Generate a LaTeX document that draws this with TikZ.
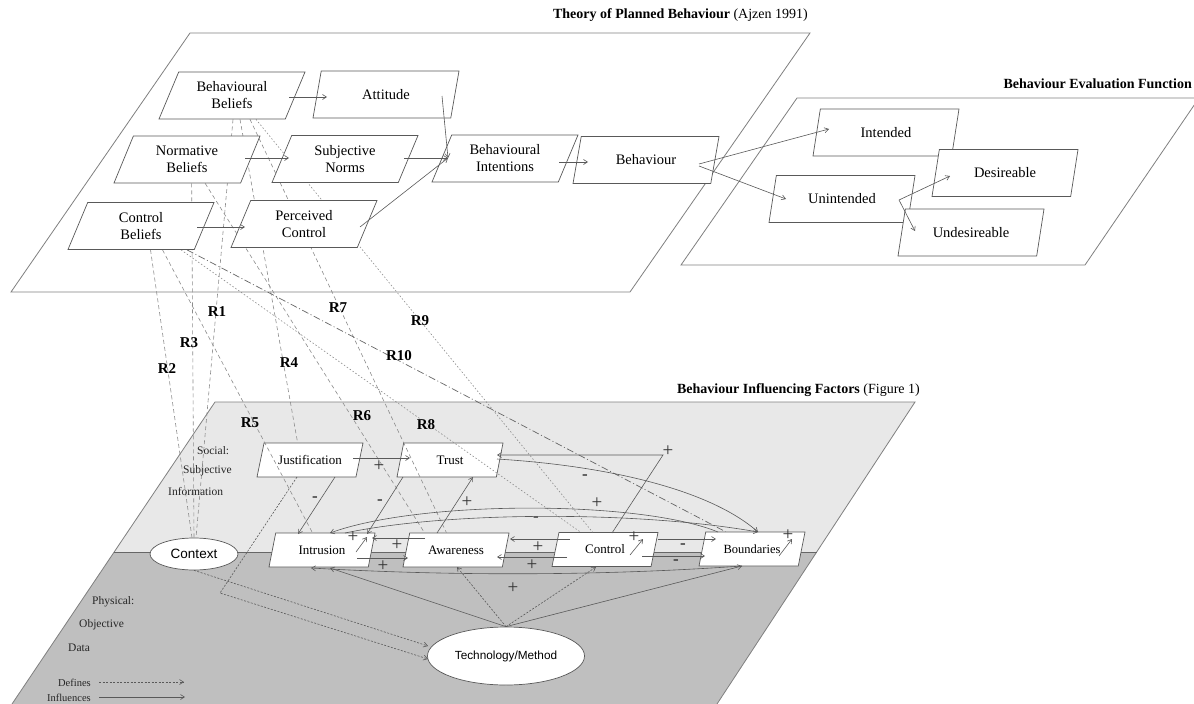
\documentclass[tikz,border=0pt]{standalone}
\usepackage{fontspec}
\setmainfont{Liberation Serif}
\newfontfamily\arialf{Liberation Sans}
\usetikzlibrary{shapes.geometric,arrows.meta,calc}
\pgfdeclarelayer{back}
\pgfdeclarelayer{lowbox}
\pgfdeclarelayer{rels}
\pgfsetlayers{back,lowbox,rels,main}
\begin{document}
\begin{tikzpicture}[x=1pt,y=-1pt,
  panel/.style={draw=black!50, line width=0.8pt},
  pbox/.style={trapezium, trapezium stretches body, draw=black!65, fill=white, line width=0.7pt,
    inner sep=1pt, align=center, font=\fontsize{14.5}{17}\selectfont,
    minimum height=47pt, minimum width=146pt, trapezium left angle=56, trapezium right angle=124},
  ebox/.style={pbox, trapezium left angle=59, trapezium right angle=121},
  sbox/.style={pbox, font=\fontsize{13}{15}\selectfont, minimum height=34pt, minimum width=106pt, trapezium left angle=58, trapezium right angle=122},
  oval/.style={ellipse, draw=black!65, fill=white, line width=0.7pt, inner sep=0pt},
  flow/.style={draw=black!65, line width=0.6pt, -{Straight Barb[length=4pt,width=5pt]}},
  defn/.style={draw=black!65, line width=0.6pt, dash pattern=on 2pt off 1.5pt, -{Straight Barb[length=4pt,width=5pt]}},
  rel/.style={draw=black!45, line width=0.6pt, dash pattern=on 4pt off 3pt},
  reldd/.style={draw=black!60, line width=0.7pt, dash pattern=on 7pt off 2.5pt on 1pt off 2.5pt},
  rlab/.style={font=\bfseries\fontsize{15}{15}\selectfont, inner sep=0pt},
  sgn/.style={font=\fontsize{19}{19}\selectfont, inner sep=0pt, text=black!80},
  neg/.style={font=\bfseries\fontsize{17}{17}\selectfont, inner sep=0pt, text=black!80},
  ttl/.style={font=\fontsize{14}{16}\selectfont, inner sep=0pt},
  side/.style={font=\fontsize{11.5}{13}\selectfont, text=black!85, inner sep=0pt, anchor=west}
]
\useasboundingbox (0,0) rectangle (1194,704);

% ---------- panels ----------
\begin{pgfonlayer}{back}
\fill[white] (0,0) rectangle (1194,704);
\fill[black!9] (215,402) -- (915,402) -- (817,552) -- (114,552) -- cycle;
\fill[black!25] (114,552) -- (817,552) -- (717,704) -- (12,704) -- cycle;
\draw[panel] (12,704) -- (215,402) -- (915,402) -- (717,704);
\draw[black!60, line width=0.8pt] (114,552) -- (817,552);
\draw[panel, fill=white] (190,33) -- (810,33) -- (630,292) -- (11,292) -- cycle;
\draw[panel, fill=white] (797,98) -- (1199,98) -- (1085,265) -- (681,265) -- cycle;
\end{pgfonlayer}

\node[ttl, anchor=east] (t1) at (808,15) {\textbf{Theory of Planned Behaviour} (Ajzen 1991)};
\node[ttl, anchor=east] (t2) at (1192,84) {\textbf{Behaviour Evaluation Function}};
\node[ttl, anchor=east] (t3) at (920,390) {\textbf{Behaviour Influencing Factors} (Figure 1)};

% ---------- TPB nodes ----------
\node[pbox] (bb) at (232,95.5) {Behavioural\\Beliefs};
\node[pbox] (att) at (386,94.5) {Attitude};
\node[pbox] (nb) at (187,159.5) {Normative\\Beliefs};
\node[pbox] (sn) at (345,159) {Subjective\\Norms};
\node[pbox] (bi) at (505,158.5) {Behavioural\\Intentions};
\node[pbox] (cb) at (141,226) {Control\\Beliefs};
\node[pbox] (pc) at (304,224) {Perceived\\Control};
\node[pbox] (beh) at (646,160) {Behaviour};

% ---------- BEF nodes ----------
\node[ebox] (int) at (886,132.5) {Intended};
\node[ebox] (unint) at (842,199) {Unintended};
\node[ebox] (des) at (1005,173) {Desireable};
\node[ebox] (undes) at (971,232.5) {Undesireable};

% ---------- BIF nodes ----------
\begin{pgfonlayer}{lowbox}
\node[sbox] (jus) at (310,460) {Justification};
\node[sbox] (tru) at (450,460) {Trust};
\node[sbox] (intr) at (322,550) {Intrusion};
\node[sbox] (awa) at (456,550) {Awareness};
\node[sbox] (ctl) at (605,549.5) {Control};
\node[sbox, font=\fontsize{12.5}{14}\selectfont] (bnd) at (752,549) {Boundaries};
\node[oval, minimum width=88pt, minimum height=32pt, font=\arialf\fontsize{13.5}{15}\selectfont] (ctx) at (194,554) {Context};
\node[oval, minimum width=157pt, minimum height=58pt, font=\arialf\fontsize{11.8}{14}\selectfont] (tech) at (506,656) {Technology/Method};
\end{pgfonlayer}

\node[side] (s1) at (197,451) {Social:};
\node[side] (s2) at (183,471) {Subjective};
\node[side] (s3) at (168,492) {Information};
\node[side] (p1) at (92,602) {Physical:};
\node[side] (p2) at (79,625) {Objective};
\node[side] (p3) at (68,648) {Data};
\node[side, font=\fontsize{10.5}{12}\selectfont, anchor=east] (l1) at (91,683) {Defines};
\node[side, font=\fontsize{10.5}{12}\selectfont, anchor=east] (l2) at (91,698) {Influences};
\coordinate (l1a) at (99,682); \coordinate (l1b) at (184,682);
\coordinate (l2a) at (99,697); \coordinate (l2b) at (185,697);
\draw[defn] (l1a) -- (l1b);
\draw[flow] (l2a) -- (l2b);

% ---------- TPB arrows ----------
\coordinate (bij) at (448,158);
\draw[flow] (289,97) coordinate (bbr) -- (327,97) coordinate (attl);
\draw[flow] (245,158) coordinate (nbr) -- (289,158) coordinate (snl);
\draw[flow] (197,227) coordinate (cbr) -- (245,227) coordinate (pcl);
\draw[flow] (442,96) coordinate (attr) -- (bij);
\draw[flow] (404,158) coordinate (snr) -- (bij);
\draw[flow] (360,227) coordinate (pcr) -- (bij);
\draw[flow] (559,162) coordinate (bir) -- (588,162) coordinate (behl);
\draw[flow] (699,164) coordinate (behr) -- (829,129) coordinate (intl);
\draw[flow] (699,166) -- (786,199) coordinate (unl);
\draw[flow] (899,200) coordinate (unr) -- (950,176) coordinate (desl);
\draw[flow] (899,200) -- (915,231) coordinate (undl);

% ---------- relations R (behind the TPB boxes, over the BIF boxes) ----------
\begin{pgfonlayer}{rels}
\draw[rel] ([xshift=11]bb.bottom side) -- ([xshift=2]ctx.north);
\draw[rel] ([xshift=19.5]cb.bottom side) -- ([xshift=-2]ctx.north);
\draw[rel] ([xshift=14.5]nb.bottom side) -- (ctx.north);
\draw[rel] ([xshift=18]bb.bottom side) -- ([xshift=-16]jus.top side);
\draw[rel] ([xshift=31.5]cb.bottom side) -- ([xshift=-13]intr.top side);
\draw[rel] ([xshift=28]nb.bottom side) -- ([xshift=-35]awa.top side);
\draw[rel] ([xshift=28]bb.bottom side) -- ([xshift=-13]awa.top side);
\draw[rel, dash pattern=on 1.5pt off 2pt] ([xshift=50]cb.bottom side) -- ([xshift=-28]ctl.top side);
\draw[rel, dash pattern=on 1.5pt off 2pt] ([xshift=34]bb.bottom side) -- ([xshift=-16]ctl.top side);
\draw[reldd] ([xshift=56]cb.bottom side) -- ([xshift=-30]bnd.top side);
\end{pgfonlayer}

\node[rlab] (r1) at (217,312) {R1};
\node[rlab] (r2) at (167,369) {R2};
\node[rlab] (r3) at (189,343) {R3};
\node[rlab] (r4) at (289,363) {R4};
\node[rlab] (r5) at (250,423) {R5};
\node[rlab] (r6) at (362,416) {R6};
\node[rlab] (r7) at (338,308) {R7};
\node[rlab] (r8) at (426,425) {R8};
\node[rlab] (r9) at (420,321) {R9};
\node[rlab] (r10) at (399,356) {R10};

% ---------- BIF arrows ----------
\draw[flow] (353,458) coordinate (jr) -- (410,458) coordinate (tl);
\node[sgn] (g1) at (379,466) {+};
\draw[flow] (335,477) coordinate (jb) -- (298,534) coordinate (it1);
\node[neg] (g2) at (315,499) {-};
\draw[flow] (403,477) coordinate (tb) -- (367,534) coordinate (it2);
\node[neg] (g3) at (380,502) {-};
\draw[flow] (437,533) coordinate (at1) -- (473,477) coordinate (tb2);
\node[sgn] (g4) at (467,502) {+};
\coordinate (corner) at (663,455);
\draw[flow] (612,533) coordinate (ct1) -- (corner) -- (497,455) coordinate (tr1);
\node[sgn] (g5) at (668,451) {+};
\draw[flow] (497,459) coordinate (tr2) .. controls (610,466) and (710,490) .. (758,532) coordinate (bt1);
\node[neg] (g6) at (585,477) {-};
\draw[flow] (718,532) coordinate (bt2) .. controls (640,500) and (420,500) .. (330,533) coordinate (it3);
\node[neg] (g7) at (536,519) {-};
\draw[flow] (345,533) .. controls (450,511) and (640,511) .. (758,532);
\node[sgn] (g8) at (597,503) {+};
\draw[flow] (425,538) -- (372,538);
\node[sgn] (g9) at (397,545) {+};
\draw[flow] (357,558) -- (408,558);
\node[sgn] (g10) at (383,566) {+};
\draw[flow, {Straight Barb[length=4pt,width=5pt]}-] (510,539) -- (570,539);
\node[sgn] (g11) at (538,547) {+};
\draw[flow] (567,557) -- (497,557);
\node[sgn] (g12) at (532,565) {+};
\draw[flow] (658,539) -- (716,539);
\node[neg] (g13) at (683,546) {-};
\draw[flow] (642,556) -- (705,556);
\node[neg] (g14) at (676,562) {-};
\draw[flow, {Straight Barb[length=4pt,width=5pt]}-] (311,568) .. controls (450,576) and (600,576) .. (742,566);
% self loops
\draw[flow] (356,552) -- (367,537); \node[sgn] (g15) at (353,537) {+};
\draw[flow] (630,555) -- (643,539); \node[sgn] (g16) at (634,537) {+};
\draw[flow] (779,556) -- (792,539); \node[sgn] (g17) at (788,535) {+};
% technology
\draw[flow] (tech.north) -- (330,568);
\draw[defn] (tech.north) -- (457,567);
\draw[defn] (tech.north) -- (596,567);
\draw[flow] (tech.north) -- (742,566);
\node[sgn] (g18) at (513,588) {+};
\draw[defn] (ctx.south) -- (428,646);
\draw[defn] (297,477) -- (220,593) -- (428,659);
\end{tikzpicture}
\end{document}
